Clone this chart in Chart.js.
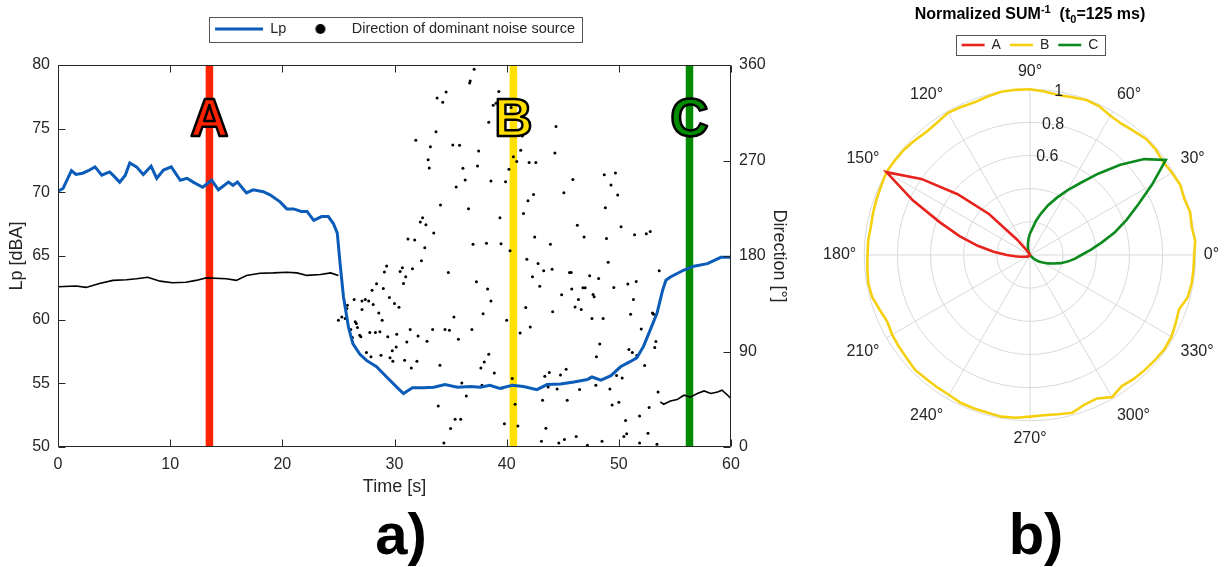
<!DOCTYPE html>
<html>
<head>
<meta charset="utf-8">
<title>Lp and direction of dominant noise source</title>
<script src="https://cdn.jsdelivr.net/npm/chart.js"></script>
<style>
  body { margin: 0; width: 1229px; height: 567px; overflow: hidden; background: #fff; position: relative; font-family: 'Liberation Sans', Arial, sans-serif; }
  canvas { position: absolute; top: 0; }
  #lpChart { left: 0; }
  #polarChart { left: 790px; }
  .panel { position: absolute; top: 505px; width: 200px; text-align: center; font: bold 58px/1 'Liberation Sans', Arial, sans-serif; color: #000; }
  #polarTitle { position: absolute; left: 880px; width: 300px; top: 6px; text-align: center; font: bold 16px/16px 'Liberation Sans', Arial, sans-serif; color: #000; white-space: pre; }
  #polarTitle sup { font-size: 11px; line-height: 0; vertical-align: 6px; }
  #polarTitle sub { font-size: 11px; line-height: 0; vertical-align: -4px; }
</style>
</head>
<body>
<canvas id="lpChart" width="800" height="500"></canvas>
<canvas id="polarChart" width="480" height="470"></canvas>
<div id="polarTitle">Normalized SUM<sup>-1</sup>  (t<sub>0</sub>=125 ms)</div>
<div class="panel" style="left:301px">a)</div>
<div class="panel" style="left:936px">b)</div>
<script>
const FONT = "'Liberation Sans', Arial, sans-serif";
const TEXT = '#262626';

// sound pressure level over time [s] -> [dBA]
const lpTime = [0, 0.45, 1.2, 1.6, 2.2, 2.7, 3.3, 3.9, 4.6, 4.9, 5.5, 6.0, 6.4, 7.0, 7.6, 8.3, 8.8, 9.4, 10.1, 10.9,
  11.5, 12.05, 12.9, 13.7, 14.3, 15.2, 15.6, 16.0, 16.8, 17.4, 18.3, 18.9, 19.8, 20.4, 21.0, 21.7, 22.2, 22.8, 23.5, 24.1,
  24.55, 24.9, 25.15, 25.45, 25.9, 26.3, 26.9, 27.5, 28.4, 29.3, 30.2, 30.8, 31.6, 32.6, 33.5, 34.5, 35.6, 36.8, 37.65, 38.5,
  39.4, 40.5, 41.5, 42.7, 43.6, 44.8, 46.0, 47.2, 47.6, 48.4, 49.3, 50.15, 51.0, 51.6, 52.2, 52.8, 53.4, 53.9, 54.2, 54.6,
  55.8, 56.7, 57.9, 59.1, 60];
const lpValue = [70.1, 70.3, 71.7, 71.4, 71.5, 71.7, 72.0, 71.35, 71.6, 71.35, 70.8, 71.35, 72.3, 72.0, 71.4, 72.05, 71.1, 71.75, 72.0, 70.95,
  71.1, 70.8, 70.4, 70.95, 70.2, 70.8, 70.55, 70.8, 69.95, 70.2, 70.05, 69.8, 69.25, 68.7, 68.7, 68.5, 68.5, 67.8, 68.1, 68.1,
  67.55, 66.8, 64.4, 61.8, 59.4, 58.1, 57.3, 56.8, 56.3, 55.5, 54.7, 54.2, 54.65, 54.65, 54.7, 54.9, 54.7, 54.75, 54.7, 54.85,
  54.6, 54.85, 54.75, 54.5, 54.9, 54.95, 55.1, 55.3, 55.5, 55.25, 55.6, 56.3, 56.7, 57.0, 57.9, 59.2, 60.5, 62.3, 63.1, 63.35,
  63.9, 64.2, 64.4, 64.9, 64.9];

// dominant direction while one source is steady [deg]
const dirEarlyTime = [0, 1.6, 2.5, 3.7, 4.9, 6.1, 7.0, 8.0, 9.1, 10.2, 11.4, 12.3, 13.2, 15.0, 15.9, 16.8, 18.0, 19.2, 20.4, 21.3, 22.2, 23.4, 24.3, 25.0];
const dirEarlyDeg = [151, 151.7, 150.4, 154, 157, 157.6, 158.5, 160, 156.3, 154.8, 155.3, 157, 159.4, 158.5, 157, 161.7, 163.8, 164.1, 164.7, 164.1, 161.7, 162.6, 164.1, 161.7];
const dirLateTime = [53.7, 54.0, 54.6, 55.2, 55.8, 56.4, 57.0, 57.6, 58.2, 58.8, 59.2, 59.7, 60];
const dirLateDeg = [42.5, 40.3, 43.4, 44.7, 48.8, 47.2, 50.4, 52.8, 50.4, 51.9, 53.5, 48.8, 45.7];

// scattered direction estimates in the quiet part
const dotTime = [
  37.1, 36.7, 36.75, 34.6, 33.8, 34.3, 39.3, 38.8, 39.05, 40.4, 38.4, 33.7, 31.9, 33.2, 35.2, 35.8, 37.5, 41.4, 41.25, 33.0,
  33.1, 36.1, 37.4, 40.6, 40.9, 40.2, 42.0, 36.3, 35.5, 38.6, 39.9, 34.1, 36.6, 39.4, 41.5, 41.9, 32.5, 32.3, 32.8, 33.5,
  31.2, 31.8, 32.7, 37.0, 38.2, 39.5, 40.3,
  41.8, 32.4, 29.3, 29.1, 30.7, 30.5, 31.6, 31.0, 30.8, 34.8, 28.4, 28.0, 29.0, 29.55, 30.0, 30.4, 27.4, 27.1, 27.7, 26.4,
  28.1, 27.1, 28.6, 28.9, 37.3, 38.3, 38.6, 37.9, 35.3, 40.0, 41.7, 42.1,
  25.8, 25.75, 25.0, 25.3, 25.6, 26.5, 26.6, 26.7, 26.1, 26.25, 26.9, 27.0, 27.8, 28.3, 28.7, 29.4, 30.2, 31.4, 32.1, 31.1,
  32.9, 33.4, 34.5, 34.9, 35.7, 36.9, 30.15, 27.5, 27.9, 28.8, 29.6, 29.85, 29.8, 30.9, 32.0, 31.5, 34.05, 38.4, 38.0, 37.7,
  38.9, 36.0, 37.8, 39.6, 40.5, 41.2, 36.4, 33.9, 40.75, 35.4, 35.9, 39.8, 41.0, 35.0, 34.4,
  44.4, 44.3, 42.6, 45.9, 48.7, 49.7, 49.3, 49.9, 42.4, 45.1, 48.8, 46.3, 42.5, 46.9, 48.9, 50.2, 51.4, 52.45, 52.8, 43.9,
  42.8, 43.3, 44.05, 42.3, 42.95, 45.6, 45.75, 49.05, 47.4, 48.2, 45.8, 46.8, 47.0, 44.9, 47.7, 47.8, 46.4, 46.1, 46.65, 44.1,
  49.55, 50.8, 51.55, 51.3, 51.05, 53.6, 53.0, 53.1, 47.6, 48.6, 48.3, 48.0, 50.9, 51.2, 51.6, 52.0, 53.3, 53.2, 52.3, 43.4,
  43.8, 44.8, 45.3, 47.4, 47.95, 49.8, 50.3, 46.5, 44.5, 43.7, 49.2, 53.5, 43.2, 45.4, 49.4, 50.0, 52.7, 51.85, 50.6, 43.5,
  46.2, 45.15, 43.1, 44.65, 48.5, 47.2, 50.7, 50.45, 52.6, 51.85, 53.4];
const dotDeg = [
  356, 343, 345, 334.6, 329, 325, 335, 322, 324, 320, 306, 297, 289, 283, 284.6, 284.3, 279, 293, 279.6, 270.8,
  263, 262.6, 264.8, 273.6, 269, 261.7, 268, 251.6, 245, 250.7, 250, 228, 224.5, 216, 220, 232, 216, 212, 209.4, 201.6,
  196, 195, 187.7, 191, 192, 191.5, 185,
  177, 175.5, 170.5, 165, 169, 165.5, 168, 160.4, 154, 164.5, 153.8, 147.8, 149.4, 141, 135.3, 131.8, 139, 137.7, 137.7, 139,
  134.3, 129.6, 126.4, 119.5, 155.7, 149, 137.7, 125.5, 122.6, 119.5, 131.5, 113,
  133.7, 130.6, 119.5, 122.6, 121, 118, 116.4, 112.6, 110.8, 103.2, 105.4, 103.8, 107.9, 107.9, 108.5, 103.8, 106.3, 110.8, 104.7, 99,
  99.7, 110.8, 110.8, 110, 101.6, 110.8, 94.3, 89, 85, 86.5, 84, 80.8, 90.6, 81.8, 80.8, 74.5, 77, 87.5, 80.2, 74.5,
  69.8, 60.4, 58.2, 55.7, 64.5, 107.5, 48.1, 38.7, 40.3, 26.1, 26.1, 22, 19.8, 17.4, 3.8,
  302, 277, 268, 252, 256.6, 258.2, 247, 237.5, 238, 239.6, 225.5, 209, 198, 197.8, 196.5, 207.5, 200, 201, 203, 191,
  173, 166, 167.4, 160.4, 151.6, 164.5, 164.5, 174, 161.3, 158.9, 148.8, 150, 150, 143.4, 143.8, 141.5, 139, 132, 129.6, 127.4,
  150.4, 153.5, 156, 139, 125.2, 166, 126.4, 125.2, 121, 121, 97, 85, 91.9, 89, 86.2, 111.3, 99.4, 93.8, 76.8, 66.7,
  70.2, 67.9, 73.3, 64.8, 58.2, 67.4, 65.1, 54.2, 54.7, 56.6, 54.7, 51.9, 44, 44, 39.6, 42.2, 37.2, 29.2, 24.9, 17.6,
  10, 7, 5.4, 3.8, 5.4, 1.6, 12.6, 10, 13, 3.8, 2.5];

// instants A, B, C
const markerNames = ['A', 'B', 'C'];
const markerTime = [13.5, 40.6, 56.3];
const markerColor = ['#ff2200', '#ffe000', '#008a00'];
const markerLetterLevel = 74.4;

// normalized SUM^-1 against direction [deg]
const polarAngle = [0, 5, 10, 15, 20, 25, 30, 35, 40, 45, 50, 55, 60, 65, 70, 75, 80, 85, 90, 95,
  100, 105, 110, 115, 120, 125, 130, 135, 140, 145, 150, 155, 160, 165, 170, 175, 180, 185, 190, 195,
  200, 205, 210, 215, 220, 225, 230, 235, 240, 245, 250, 255, 260, 265, 270, 275, 280, 285, 290, 295,
  300, 305, 310, 315, 320, 325, 330, 335, 340, 345, 350, 355];
const sumA = [0, 0, 0, 0, 0, 0, 0, 0, 0, 0, 0, 0, 0, 0, 0, 0, 0, 0, 0, 0,
  0, 0, 0, 0, 0.01, 0.03, 0.12, 0.35, 0.57, 0.8, 1.0, 0.78, 0.58, 0.44, 0.32, 0.22, 0.14, 0.09, 0.06, 0.04,
  0.03, 0.02, 0.02, 0.01, 0.01, 0, 0, 0, 0, 0, 0, 0, 0, 0, 0, 0, 0, 0, 0, 0,
  0, 0, 0, 0, 0, 0, 0, 0, 0, 0, 0, 0];
const sumB = [0.99, 1.0, 0.99, 1.0, 0.99, 1.0, 0.99, 0.98, 0.99, 0.99, 0.975, 0.965, 0.97, 0.99, 0.995, 0.985, 0.98, 0.99, 1.0, 1.0,
  1.0, 0.99, 0.98, 0.985, 0.99, 0.975, 0.97, 0.98, 0.99, 0.995, 1.0, 0.99, 0.985, 0.98, 0.975, 0.98, 0.98, 0.985, 0.99, 0.985,
  0.965, 0.95, 0.96, 0.965, 0.97, 0.98, 0.975, 0.975, 0.975, 0.985, 0.985, 0.985, 0.99, 0.985, 0.975, 0.97, 0.975, 0.985, 0.96, 0.955,
  0.99, 0.965, 0.975, 0.98, 0.985, 0.99, 0.985, 0.97, 0.957, 0.985, 0.99, 0.99];
const sumC = [0.31, 0.37, 0.44, 0.53, 0.62, 0.72, 0.85, 1.0, 0.9, 0.77, 0.64, 0.53, 0.45, 0.38, 0.32, 0.26, 0.21, 0.16, 0.13, 0.1,
  0.07, 0.05, 0.03, 0.01, 0, 0, 0, 0, 0, 0, 0, 0, 0, 0, 0, 0, 0, 0, 0, 0,
  0, 0, 0, 0, 0, 0, 0, 0, 0, 0, 0, 0, 0, 0, 0, 0, 0, 0, 0, 0,
  0, 0, 0.01, 0.03, 0.05, 0.07, 0.09, 0.12, 0.15, 0.19, 0.23, 0.27];
const polarNames = ['A', 'B', 'C'];
const polarColor = ['#e8231e', '#f5d010', '#0d8a1e'];
const rTickLabels = [0.6, 0.8, 1];
const rLabelAngle = 80;

const pts = (xs, ys) => xs.map((x, i) => ({ x, y: ys[i] }));

// radar runs clockwise from the top, the polar axis runs counter-clockwise from the right
const radarOrder = polarAngle.map((a, k) => k)
  .sort((p, q) => ((450 - polarAngle[p]) % 360) - ((450 - polarAngle[q]) % 360));
const radarAngle = radarOrder.map(k => polarAngle[k]);
const toRadar = values => radarOrder.map(k => values[k]);

// box around the legend entries
const legendFrame = {
  id: 'legendFrame',
  afterDraw(chart, args, opts) {
    const hb = chart.legend && chart.legend.legendHitBoxes;
    if (!hb || !hb.length) return;
    const left = Math.min(...hb.map(b => b.left)) - opts.padLeft;
    const right = Math.max(...hb.map(b => b.left + b.width)) + opts.padRight;
    const cy = hb[0].top + hb[0].height / 2;
    const ctx = chart.ctx;
    ctx.save();
    ctx.strokeStyle = '#555';
    ctx.lineWidth = 1;
    ctx.strokeRect(Math.round(left) + 0.5, Math.round(cy - opts.halfHeight) + 0.5,
      Math.round(right - left), Math.round(2 * opts.halfHeight));
    ctx.restore();
  }
};

// box axes with inward ticks
const axisFrame = {
  id: 'axisFrame',
  afterDatasetsDraw(chart) {
    const { ctx, chartArea: a, scales } = chart;
    const L = Math.round(a.left) + 0.5, R = Math.round(a.right) - 0.5;
    const T = Math.round(a.top) + 0.5, B = Math.round(a.bottom) - 0.5;
    ctx.save();
    ctx.strokeStyle = '#262626';
    ctx.lineWidth = 1;
    ctx.beginPath();
    ctx.rect(L, T, R - L, B - T);
    scales.x.ticks.forEach(t => {
      const px = Math.round(scales.x.getPixelForValue(t.value)) + 0.5;
      ctx.moveTo(px, B); ctx.lineTo(px, B - 7);
      ctx.moveTo(px, T); ctx.lineTo(px, T + 7);
    });
    scales.y.ticks.forEach(t => {
      const py = Math.round(scales.y.getPixelForValue(t.value)) + 0.5;
      ctx.moveTo(L, py); ctx.lineTo(L + 7, py);
    });
    scales.y2.ticks.forEach(t => {
      const py = Math.round(scales.y2.getPixelForValue(t.value)) + 0.5;
      ctx.moveTo(R, py); ctx.lineTo(R - 7, py);
    });
    ctx.stroke();
    ctx.restore();
  }
};

// outlined letters on the A/B/C lines
const markerLetters = {
  id: 'markerLetters',
  afterDatasetsDraw(chart) {
    const { ctx, scales: { x, y } } = chart;
    ctx.save();
    ctx.font = `bold 53px ${FONT}`;
    ctx.textAlign = 'center';
    ctx.textBaseline = 'alphabetic';
    ctx.lineWidth = 2.5;
    ctx.lineJoin = 'round';
    ctx.strokeStyle = '#000';
    markerNames.forEach((name, i) => {
      const px = x.getPixelForValue(markerTime[i]);
      const py = y.getPixelForValue(markerLetterLevel);
      ctx.fillStyle = markerColor[i];
      ctx.fillText(name, px, py);
      ctx.strokeText(name, px, py);
    });
    ctx.restore();
  }
};

// radius labels along the 80 deg spoke
const radialTickLabels = {
  id: 'radialTickLabels',
  afterDraw(chart) {
    const r = chart.scales.r;
    const idx = radarAngle.indexOf(rLabelAngle);
    const ctx = chart.ctx;
    ctx.save();
    ctx.font = `16px ${FONT}`;
    ctx.fillStyle = TEXT;
    ctx.textAlign = 'center';
    ctx.textBaseline = 'middle';
    rTickLabels.forEach(v => {
      const p = r.getPointPositionForValue(idx, v);
      ctx.fillText(String(v), p.x, p.y);
    });
    ctx.restore();
  }
};

// legend swatch for the direction dots
const dotSwatch = document.createElement('canvas');
dotSwatch.width = 12;
dotSwatch.height = 12;
(() => {
  const c = dotSwatch.getContext('2d');
  c.fillStyle = '#000';
  c.beginPath();
  c.arc(6, 6, 5, 0, Math.PI * 2);
  c.fill();
})();

const tickFont = { family: FONT, size: 16 };
const titleFont = { family: FONT, size: 18 };

const lineSet = (label, data, color, width, axis, order) => ({
  label, data, borderColor: color, backgroundColor: color, borderWidth: width,
  pointRadius: 0, tension: 0, yAxisID: axis, order
});

new Chart(document.getElementById('lpChart'), {
  type: 'line',
  data: {
    datasets: [
      lineSet('Lp', pts(lpTime, lpValue), '#0b5cb8', 3, 'y', 0),
      {
        label: 'Direction of dominant noise source', data: pts(dotTime, dotDeg), yAxisID: 'y2', order: 1,
        showLine: false, pointRadius: 1.5, pointBorderWidth: 0, pointBackgroundColor: '#000',
        borderColor: '#000', backgroundColor: '#000', borderWidth: 0
      },
      lineSet('dirEarly', pts(dirEarlyTime, dirEarlyDeg), '#000', 1.6, 'y2', 2),
      lineSet('dirLate', pts(dirLateTime, dirLateDeg), '#000', 1.6, 'y2', 2),
      ...markerNames.map((n, i) =>
        lineSet(n, [{ x: markerTime[i], y: 50 }, { x: markerTime[i], y: 80 }], markerColor[i], 7.5, 'y', 3))
    ]
  },
  options: {
    responsive: false,
    animation: false,
    layout: { padding: { top: 11.75, right: 10, bottom: 1, left: 0 } },
    plugins: {
      tooltip: { enabled: false },
      legend: {
        position: 'top',
        labels: {
          usePointStyle: true,
          pointStyleWidth: 48,
          padding: 10,
          color: TEXT,
          font: { family: FONT, size: 14.5 },
          generateLabels(chart) {
            return Chart.defaults.plugins.legend.labels.generateLabels(chart)
              .filter(item => item.datasetIndex < 2)
              .map(item => {
                item.pointStyle = item.datasetIndex === 1 ? dotSwatch : 'line';
                return item;
              });
          }
        }
      },
      legendFrame: { padLeft: 6, padRight: 7.5, halfHeight: 12.5 }
    },
    scales: {
      x: {
        type: 'linear', position: 'bottom', min: 0, max: 60,
        ticks: { stepSize: 10, padding: 0, color: TEXT, font: tickFont },
        grid: { display: false }, border: { display: false },
        title: { display: true, text: 'Time [s]', color: TEXT, font: titleFont, padding: { top: 0, bottom: 1 } },
        afterFit: s => { s.height = 52; }
      },
      xTop: {
        type: 'linear', position: 'top', min: 0, max: 60,
        ticks: { display: false }, grid: { display: false }, border: { display: false },
        afterFit: s => { s.height = 18.75; }
      },
      y: {
        position: 'left', min: 50, max: 80,
        ticks: { stepSize: 5, padding: 0, color: TEXT, font: tickFont },
        grid: { display: false }, border: { display: false },
        title: { display: true, text: 'Lp [dBA]', color: TEXT, font: titleFont, padding: { top: 6, bottom: 0 } },
        afterFit: s => { s.width = 58; }
      },
      y2: {
        position: 'right', min: 0, max: 360,
        ticks: { stepSize: 90, padding: 0, color: TEXT, font: tickFont },
        grid: { display: false }, border: { display: false },
        title: { display: true, text: 'Direction [°]', color: TEXT, font: titleFont, padding: { top: 0, bottom: 0 } },
        afterFit: s => { s.width = 59; }
      }
    }
  },
  plugins: [axisFrame, markerLetters, legendFrame]
});

new Chart(document.getElementById('polarChart'), {
  type: 'radar',
  data: {
    labels: radarAngle,
    datasets: [sumA, sumB, sumC].map((values, k) => ({
      label: polarNames[k],
      data: toRadar(values),
      borderColor: polarColor[k],
      backgroundColor: polarColor[k],
      borderWidth: 2.6,
      pointRadius: 0,
      fill: false,
      order: k === 1 ? 1 : 0
    }))
  },
  options: {
    responsive: false,
    animation: false,
    layout: { padding: { top: 29, bottom: 21, left: 0, right: 0 } },
    scales: {
      r: {
        min: 0, max: 1, startAngle: 0,
        ticks: { stepSize: 0.2, display: false },
        grid: { circular: true, color: '#d9d9d9', lineWidth: 1 },
        angleLines: { color: '#d9d9d9', lineWidth: c => (c.index % 6 === 0 ? 1 : 0) },
        pointLabels: {
          padding: 8, color: TEXT, font: { family: FONT, size: 16 },
          callback: v => (v % 30 === 0 ? v + '°' : '')
        }
      }
    },
    plugins: {
      tooltip: { enabled: false },
      legend: {
        position: 'top',
        labels: {
          usePointStyle: true, pointStyle: 'line', pointStyleWidth: 23, padding: 9,
          color: TEXT, font: { family: FONT, size: 14 },
          sort: (a, b) => a.datasetIndex - b.datasetIndex
        }
      },
      legendFrame: { padLeft: 6, padRight: 6, halfHeight: 10 }
    }
  },
  plugins: [radialTickLabels, legendFrame]
});
</script>
</body>
</html>
